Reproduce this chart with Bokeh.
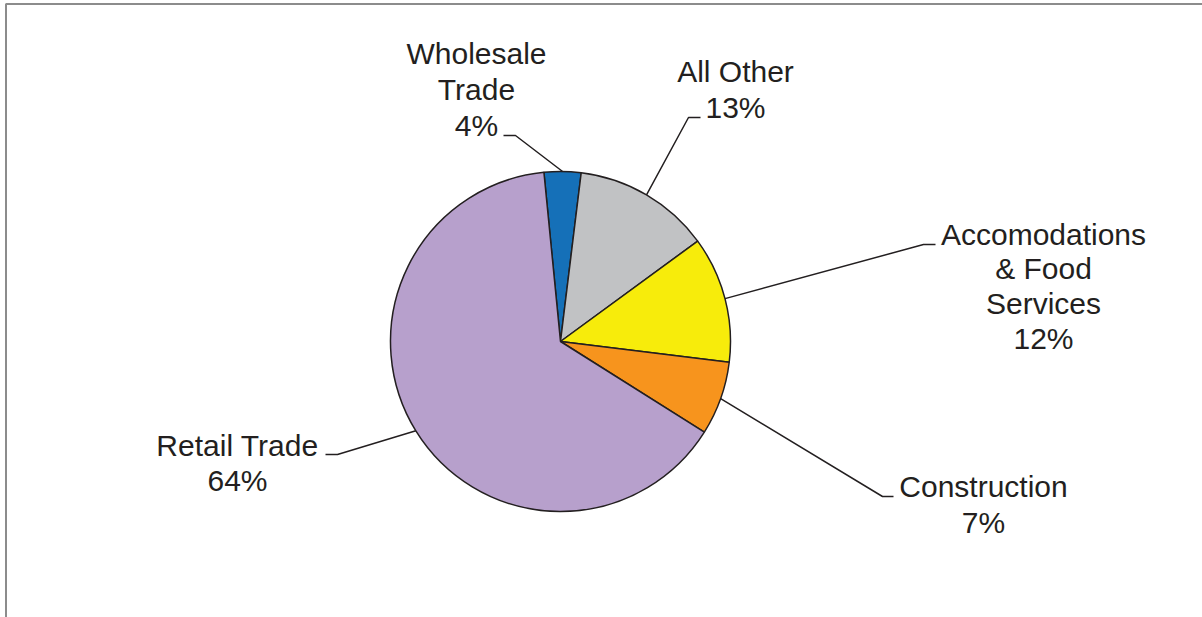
import math
from bokeh.plotting import figure
from bokeh.models import Range1d, ColumnDataSource
from bokeh.core.properties import value
from bokeh.embed import file_html
from bokeh.resources import INLINE

W, H = 1202, 617

# ---- data ----
categories = ["Wholesale Trade", "All Other", "Accomodations & Food Services", "Construction", "Retail Trade"]
shares = [3.5, 13.0, 12.0, 7.0, 64.5]
pct_labels = ["4%", "13%", "12%", "7%", "64%"]
label_lines = [["Wholesale", "Trade"], ["All Other"], ["Accomodations", "& Food", "Services"], ["Construction"], ["Retail Trade"]]
colors = ["#1570b8", "#c1c2c4", "#f7ec0b", "#f7941d", "#b7a0cc"]

# ---- layout (pixel space, y downwards) ----
CX, CY, R = 560, 341, 170
START_DEG = -5.6  # clockwise from 12 o'clock
TEXT_SHIFT = -10.5
label_pos = [(476, 135), (735, 117), (1043, 348), (983, 532), (237, 490)]
first_baseline = [63, 81, 244, 496, 455]
elbows = [((503, 135), (515, 135)),
          ((700, 117), (688, 117)),
          ((935, 244), (923, 244)),
          ((893, 496), (882, 496)),
          ((325, 454), (337, 454))]
LINE_H = 35.5

def Y(py):
    return H - py

p = figure(width=W, height=H, output_backend="svg", toolbar_location=None,
           x_range=Range1d(0, W), y_range=Range1d(0, H), min_border=0)
p.axis.visible = False
p.grid.visible = False
p.outline_line_color = None
p.background_fill_color = "white"
p.border_fill_color = "white"

# frame
p.line([5.5, 5.5, W + 10], [Y(H + 10), Y(3.5), Y(3.5)], line_color="#8c8c8c", line_width=2)

# wedges
total = sum(shares)
starts, ends, mids = [], [], []
acc = START_DEG
for s in shares:
    a1 = acc
    a2 = acc + s / total * 360.0
    starts.append(math.radians(90 - a2))
    ends.append(math.radians(90 - a1))
    mids.append((a1 + a2) / 2)
    acc = a2

src = ColumnDataSource(dict(x=[CX] * len(shares), y=[Y(CY)] * len(shares),
                            start=starts, end=ends, color=colors, cat=categories))
p.wedge(x="x", y="y", radius=R, start_angle="start", end_angle="end",
        fill_color="color", line_color="#231f20", line_width=1.5, source=src)

# leader lines
for i, m in enumerate(mids):
    ex = CX + R * math.sin(math.radians(m))
    ey = CY - R * math.cos(math.radians(m))
    (x0, y0), (x1, y1) = elbows[i]
    p.line([x0, x1, ex], [Y(y0), Y(y1), Y(ey)], line_color="#231f20", line_width=1.5)

# labels
for i in range(len(categories)):
    cx, _ = label_pos[i]
    lines = label_lines[i] + [pct_labels[i]]
    b0 = first_baseline[i]
    last = label_pos[i][1]
    n = len(lines)
    step = (last - b0) / (n - 1) if n > 1 else LINE_H
    ys = [Y(b0 + k * step + TEXT_SHIFT) for k in range(n)]
    p.text(x=[cx] * n, y=ys, text=lines, text_align="center", text_baseline="alphabetic",
           text_font=value("Liberation Sans"), text_font_size="30px", text_color="#231f20")

open("out.html", "w").write(file_html(p, INLINE))
